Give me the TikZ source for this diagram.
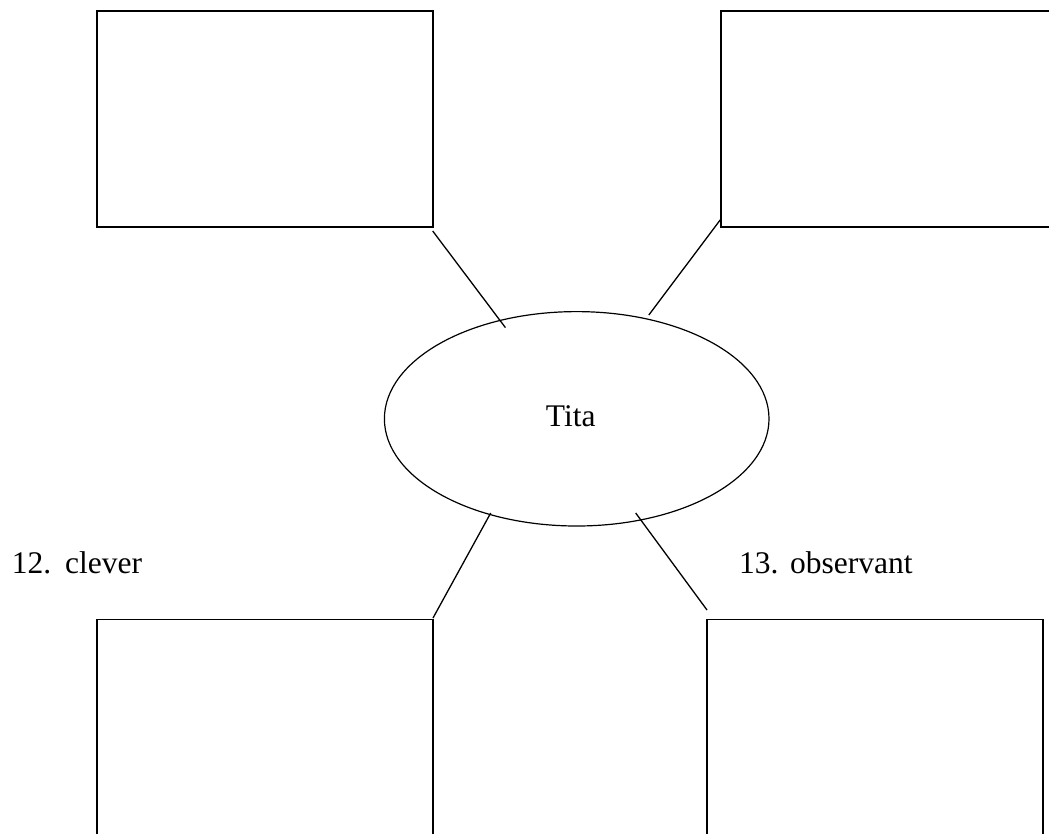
\documentclass[tikz,border=0pt]{standalone}
\usepackage{fontspec}
\setmainfont{Liberation Serif}
\usetikzlibrary{shapes.geometric}
\begin{document}
\begin{tikzpicture}[x=1pt,y=-1pt,
  every node/.style={font=\fontsize{31.5}{36}\selectfont},
  answerbox/.style={draw, rectangle, line width=1.7pt, inner sep=0pt, outer sep=0pt,
                    minimum width=336pt, minimum height=215.4pt},
  hub/.style={draw, ellipse, line width=1.2pt, inner sep=0pt, outer sep=0pt,
              minimum width=384.6pt, minimum height=214.4pt},
  spoke/.style={line width=1.3pt},
  itemlabel/.style={anchor=base west, inner sep=0pt}]
  \useasboundingbox (0,0) rectangle (1049,833);
  \clip (0,0) rectangle (1049,833);

  % four boxes (right and bottom edges run off the page)
  \node[answerbox, anchor=north west] (tl) at (96.7,11.3) {};
  \node[answerbox, anchor=north west] (tr) at (720.7,11.3) {};
  \node[answerbox, anchor=north west] (bl) at (96.7,619.5) {};
  \node[answerbox, anchor=north west] (br) at (707.3,619.5) {};

  % central ellipse
  \node[hub] (hub) at (576.7,418.8) {};
  \node[anchor=base, inner sep=0pt] (name) at (570.8,426.7) {Tita};

  % spoke end points
  \coordinate (tlA) at (432.7,231);
  \coordinate (tlB) at (505.4,327.6);
  \coordinate (trA) at (720.7,219.3);
  \coordinate (trB) at (648.8,315);
  \coordinate (blA) at (490.7,513);
  \coordinate (blB) at (433,618);
  \coordinate (brA) at (635.7,513);
  \coordinate (brB) at (707,610);

  \draw[spoke] (tlA) -- (tlB);
  \draw[spoke] (trA) -- (trB);
  \draw[spoke] (blA) -- (blB);
  \draw[spoke] (brA) -- (brB);

  % labels
  \node[itemlabel] (lab12) at (11.7,573.3) {12.\hspace{0.44em}clever};
  \node[itemlabel] (lab13) at (739,573.3) {13.\hspace{0.37em}observant};
\end{tikzpicture}
\end{document}
